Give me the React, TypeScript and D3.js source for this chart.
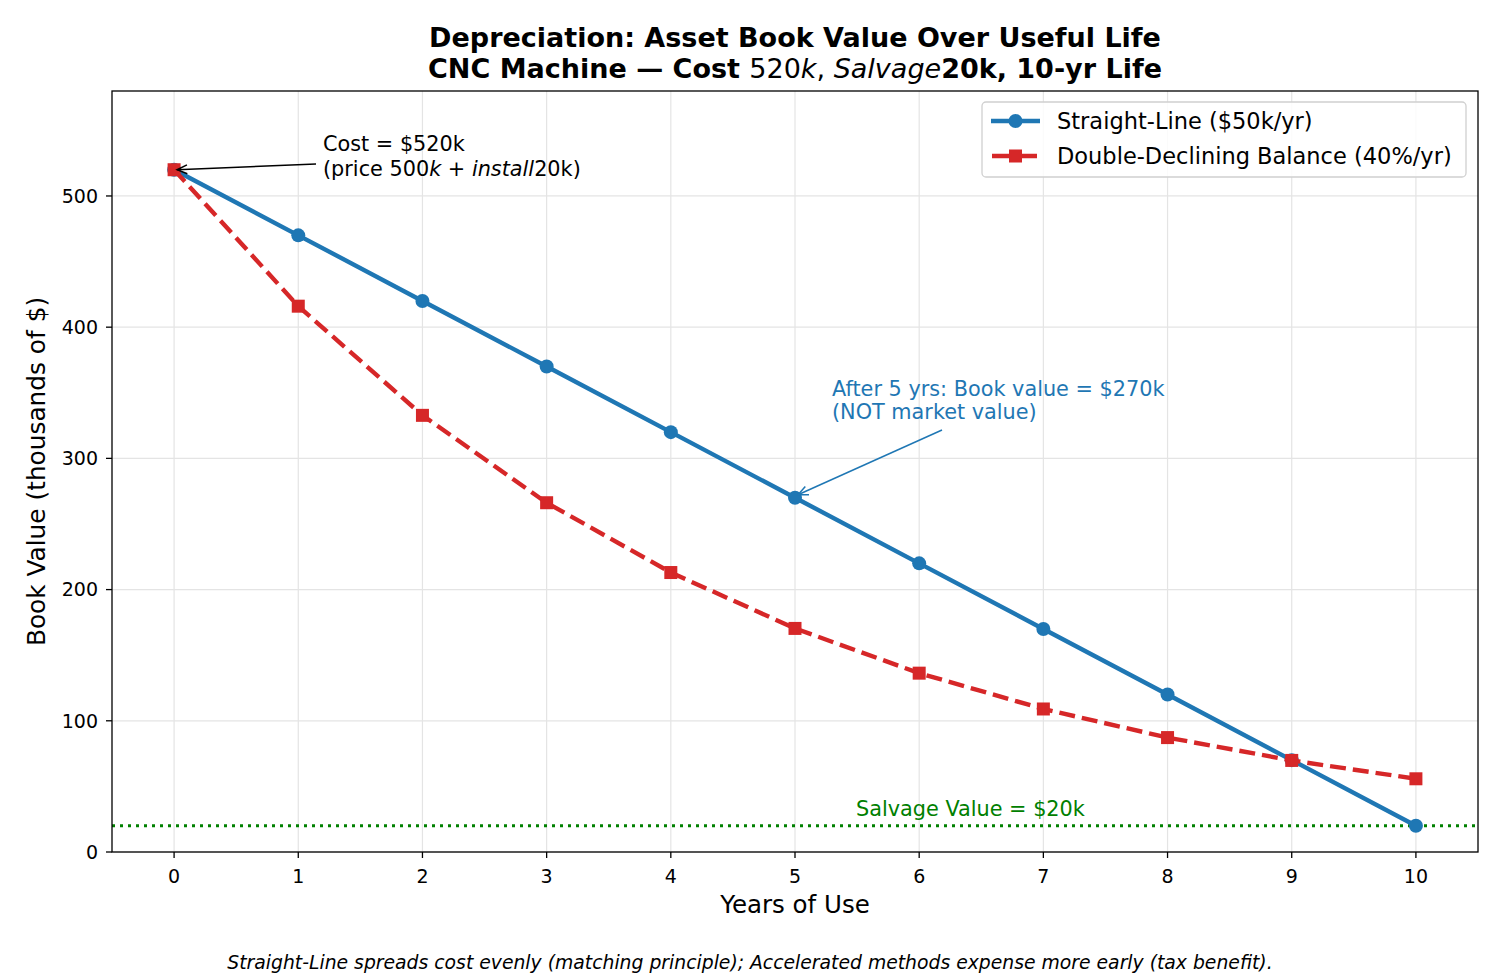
import React from "react";
import * as d3 from "d3";

// Book value (thousands of $) at the end of each year
const years = [0, 1, 2, 3, 4, 5, 6, 7, 8, 9, 10];
const straightLine = [520, 470, 420, 370, 320, 270, 220, 170, 120, 70, 20];
const doubleDeclining = [520, 416, 332.8, 266.2, 213.0, 170.4, 136.3, 109.0, 87.2, 69.8, 55.8];
const salvageValue = 20;
const xTicks = [0, 1, 2, 3, 4, 5, 6, 7, 8, 9, 10];
const yTicks = [0, 100, 200, 300, 400, 500];
const seriesLabels = ["Straight-Line ($50k/yr)", "Double-Declining Balance (40%/yr)"];

const W = 1500;
const H = 975;
const M = { left: 112, right: 1478, top: 91, bottom: 852 };
const BLUE = "#1f77b4";
const RED = "#d62728";
const GREEN = "#008000";
const FONT = "DejaVu Sans, sans-serif";

export default function App() {
  const x = d3.scaleLinear().domain([-0.5, 10.5]).range([M.left, M.right]);
  const y = d3.scaleLinear().domain([0, 580]).range([M.bottom, M.top]);

  const line = d3
    .line<number>()
    .x((_, i) => x(years[i]))
    .y((d) => y(d));

  const arrowHead = (tipX: number, tipY: number, fromX: number, fromY: number, color: string) => {
    const ang = Math.atan2(fromY - tipY, fromX - tipX);
    const len = 11;
    const spread = 0.42;
    const p1 = [tipX + len * Math.cos(ang + spread), tipY + len * Math.sin(ang + spread)];
    const p2 = [tipX + len * Math.cos(ang - spread), tipY + len * Math.sin(ang - spread)];
    return (
      <path
        d={`M${p1[0]},${p1[1]} L${tipX},${tipY} L${p2[0]},${p2[1]}`}
        fill="none"
        stroke={color}
        strokeWidth={1.5}
      />
    );
  };

  // annotation geometry
  const costTip = { x: x(0) + 3, y: y(520) };
  const costFrom = { x: 316, y: 164 };
  const bookTip = { x: x(5) + 3, y: y(270) - 3 };
  const bookFrom = { x: 942, y: 430 };

  return (
    <svg
      width={W}
      height={H}
      style={{ display: "block", position: "absolute", left: 0, top: 0, background: "#fff" }}
      fontFamily={FONT}
    >
      <rect width={W} height={H} fill="#fff" />
      {/* title */}
      <text x={795} y={47} textAnchor="middle" fontSize={27} fontWeight="bold" fill="#000">
        Depreciation: Asset Book Value Over Useful Life
      </text>
      <text x={795} y={78} textAnchor="middle" fontSize={27} fill="#000">
        <tspan fontWeight="bold">CNC Machine — Cost </tspan>
        <tspan>520</tspan>
        <tspan fontStyle="italic">k</tspan>
        <tspan>, </tspan>
        <tspan fontStyle="italic">Salvage</tspan>
        <tspan fontWeight="bold">20k, 10-yr Life</tspan>
      </text>

      {/* grid */}
      <g stroke="#e4e4e4" strokeWidth={1.2}>
        {xTicks.map((t) => (
          <line key={"gx" + t} x1={x(t)} x2={x(t)} y1={M.top} y2={M.bottom} />
        ))}
        {yTicks.map((t) => (
          <line key={"gy" + t} x1={M.left} x2={M.right} y1={y(t)} y2={y(t)} />
        ))}
      </g>

      {/* salvage line */}
      <line
        x1={M.left}
        x2={M.right}
        y1={y(salvageValue)}
        y2={y(salvageValue)}
        stroke={GREEN}
        strokeWidth={3}
        strokeDasharray="3 5"
      />
      <text x={856} y={816} fontSize={20.8} fill={GREEN}>
        Salvage Value = $20k
      </text>

      {/* straight-line series */}
      <path d={line(straightLine) || ""} fill="none" stroke={BLUE} strokeWidth={4.4} />
      {straightLine.map((v, i) => (
        <circle key={"c" + i} cx={x(years[i])} cy={y(v)} r={7} fill={BLUE} />
      ))}
      {/* double-declining series */}
      <path d={line(doubleDeclining) || ""} fill="none" stroke={RED} strokeWidth={4.4} strokeDasharray="16 7" />
      {doubleDeclining.map((v, i) => (
        <rect key={"s" + i} x={x(years[i]) - 6.5} y={y(v) - 6.5} width={13} height={13} fill={RED} />
      ))}

      {/* frame */}
      <rect
        x={M.left}
        y={M.top}
        width={M.right - M.left}
        height={M.bottom - M.top}
        fill="none"
        stroke="#000"
        strokeWidth={1.3}
      />

      {/* x axis */}
      {xTicks.map((t) => (
        <g key={"xt" + t}>
          <line x1={x(t)} x2={x(t)} y1={M.bottom} y2={M.bottom + 6} stroke="#000" strokeWidth={1.3} />
          <text x={x(t)} y={883} textAnchor="middle" fontSize={19} fill="#000">
            {t}
          </text>
        </g>
      ))}
      <text x={(M.left + M.right) / 2} y={913} textAnchor="middle" fontSize={24.5} fill="#000">
        Years of Use
      </text>

      {/* y axis */}
      {yTicks.map((t) => (
        <g key={"yt" + t}>
          <line x1={M.left - 6} x2={M.left} y1={y(t)} y2={y(t)} stroke="#000" strokeWidth={1.3} />
          <text x={M.left - 14} y={y(t)} dy="0.36em" textAnchor="end" fontSize={19} fill="#000">
            {t}
          </text>
        </g>
      ))}
      <text
        transform={`translate(45,${(M.top + M.bottom) / 2}) rotate(-90)`}
        textAnchor="middle"
        fontSize={24.8}
        fill="#000"
      >
        Book Value (thousands of $)
      </text>

      {/* cost annotation */}
      <line x1={costFrom.x} y1={costFrom.y} x2={costTip.x} y2={costTip.y} stroke="#000" strokeWidth={1.5} />
      {arrowHead(costTip.x, costTip.y, costFrom.x, costFrom.y, "#000")}
      <text x={323} y={151} fontSize={20.8} fill="#000">
        Cost = $520k
      </text>
      <text x={323} y={176} fontSize={20.8} fill="#000">
        <tspan>(price 500</tspan>
        <tspan fontStyle="italic">k</tspan>
        <tspan> + </tspan>
        <tspan fontStyle="italic">install</tspan>
        <tspan>20k)</tspan>
      </text>

      {/* book value annotation */}
      <line x1={bookFrom.x} y1={bookFrom.y} x2={bookTip.x} y2={bookTip.y} stroke={BLUE} strokeWidth={1.5} />
      {arrowHead(bookTip.x, bookTip.y, bookFrom.x, bookFrom.y, BLUE)}
      <text x={832} y={396} fontSize={20.8} fill={BLUE}>
        After 5 yrs: Book value = $270k
      </text>
      <text x={832} y={419} fontSize={20.8} fill={BLUE}>
        (NOT market value)
      </text>

      {/* legend */}
      <g>
        <rect x={982} y={102} width={484} height={75} rx={4} fill="#fff" fillOpacity={0.85} stroke="#d0d0d0" strokeWidth={1.3} />
        <line x1={991} x2={1040} y1={121} y2={121} stroke={BLUE} strokeWidth={4.4} />
        <circle cx={1015.5} cy={121} r={7} fill={BLUE} />
        <text x={1057} y={121} dy="0.36em" fontSize={22.5} fill="#000">
          {seriesLabels[0]}
        </text>
        <line x1={992} x2={1037} y1={156} y2={156} stroke={RED} strokeWidth={4.4} />
        <rect x={1009} y={149.5} width={13} height={13} fill={RED} />
        <text x={1057} y={156} dy="0.36em" fontSize={22.5} fill="#000">
          {seriesLabels[1]}
        </text>
      </g>

      {/* footer */}
      <text x={750} y={969} textAnchor="middle" fontSize={18.8} fontStyle="italic" fill="#000">
        Straight-Line spreads cost evenly (matching principle); Accelerated methods expense more early (tax benefit).
      </text>
    </svg>
  );
}
